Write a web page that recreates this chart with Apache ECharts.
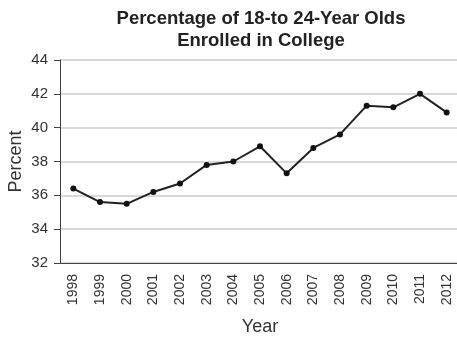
<!DOCTYPE html>
<html><head><meta charset="utf-8">
<script src="https://cdn.jsdelivr.net/npm/echarts@6/dist/echarts.min.js"></script>
<style>html,body{margin:0;padding:0;background:#fff}#c{width:457px;height:339px}</style>
</head><body><div id="c"></div>
<script>
var years = ['1998','1999','2000','2001','2002','2003','2004','2005','2006','2007','2008','2009','2010','2011','2012'];
var percent = [36.4, 35.6, 35.5, 36.2, 36.7, 37.8, 38.0, 38.9, 37.3, 38.8, 39.6, 41.3, 41.2, 42.0, 40.9];
var chart = echarts.init(document.getElementById('c'), null, {renderer:'canvas'});
var font = 'Liberation Sans, Arial, sans-serif';
chart.setOption({
  animation:false,
  title:{
    text:'Percentage of 18-to 24-Year Olds\nEnrolled in College',
    left:256, top:3, textAlign:'center',
    textStyle:{fontFamily:font, fontSize:18.5, fontWeight:'bold', color:'#222', lineHeight:22}
  },
  grid:{left:60, top:60, width:400, height:203, containLabel:false, outerBoundsMode:'none'},
  xAxis:{
    type:'category', data:years, boundaryGap:true,
    name:'Year', nameLocation:'middle', nameGap:55, nameMoveOverlap:false,
    nameTextStyle:{fontFamily:font, fontSize:18, color:'#333'},
    axisLine:{lineStyle:{color:'#444', width:1}},
    axisTick:{alignWithLabel:true, length:5, lineStyle:{color:'#444'}},
    axisLabel:{rotate:90, fontFamily:font, fontSize:14, color:'#333', margin:11, interval:0},
    splitLine:{show:false}
  },
  yAxis:{
    type:'value', min:32, max:44, interval:2,
    name:'Percent', nameLocation:'middle', nameGap:35, nameMoveOverlap:false,
    nameTextStyle:{fontFamily:font, fontSize:18, color:'#333'},
    axisLine:{show:true, lineStyle:{color:'#444', width:1}},
    axisTick:{show:true, length:6, lineStyle:{color:'#444'}},
    axisLabel:{fontFamily:font, fontSize:15, color:'#333', margin:12},
    splitLine:{show:true, lineStyle:{color:'#ccc', width:1.5}}
  },
  series:[{
    type:'line', data:percent,
    symbol:'circle', symbolSize:6,
    itemStyle:{color:'#111'},
    lineStyle:{color:'#222', width:2}
  }]
});
</script></body></html>
